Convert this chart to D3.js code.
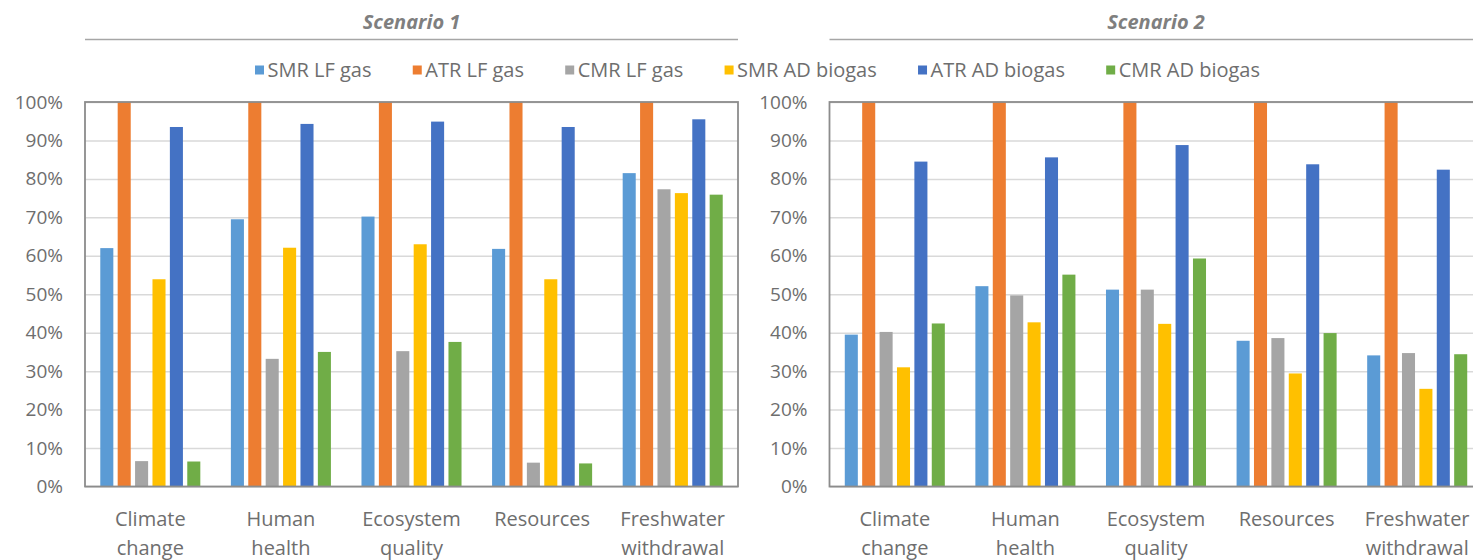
<!DOCTYPE html>
<html>
<head>
<meta charset="utf-8">
<script src="https://cdn.jsdelivr.net/npm/d3@7/dist/d3.min.js"></script>
<style>
  html, body { margin: 0; padding: 0; background: #ffffff; }
  svg { display: block; font-family: "Open Sans", sans-serif; }
</style>
</head>
<body>
<svg id="chart" width="1473" height="560"></svg>
<script>
// ---------------- DATA ----------------
const categories = ["Climate change", "Human health", "Ecosystem quality", "Resources", "Freshwater withdrawal"];
const categoryLines = [["Climate", "change"], ["Human", "health"], ["Ecosystem", "quality"], ["Resources"], ["Freshwater", "withdrawal"]];
const seriesNames = ["SMR LF gas", "ATR LF gas", "CMR LF gas", "SMR AD biogas", "ATR AD biogas", "CMR AD biogas"];
const seriesColors = ["#5B9BD5", "#ED7D31", "#A5A5A5", "#FFC000", "#4472C4", "#70AD47"];
const scenarioTitles = ["Scenario 1", "Scenario 2"];
const yTickValues = [0, 0.1, 0.2, 0.3, 0.4, 0.5, 0.6, 0.7, 0.8, 0.9, 1.0];

// Scenario 1 (share of maximum), one array per series, in category order
const s1SmrLfGas    = [0.620, 0.695, 0.702, 0.618, 0.815];
const s1AtrLfGas    = [1.000, 1.000, 1.000, 1.000, 1.000];
const s1CmrLfGas    = [0.066, 0.332, 0.352, 0.062, 0.773];
const s1SmrAdBiogas = [0.539, 0.621, 0.630, 0.539, 0.763];
const s1AtrAdBiogas = [0.935, 0.943, 0.949, 0.935, 0.955];
const s1CmrAdBiogas = [0.065, 0.350, 0.376, 0.060, 0.759];

// Scenario 2
const s2SmrLfGas    = [0.395, 0.521, 0.512, 0.379, 0.341];
const s2AtrLfGas    = [1.000, 1.000, 1.000, 1.000, 1.000];
const s2CmrLfGas    = [0.402, 0.497, 0.512, 0.386, 0.347];
const s2SmrAdBiogas = [0.310, 0.427, 0.423, 0.294, 0.254];
const s2AtrAdBiogas = [0.845, 0.856, 0.888, 0.838, 0.824];
const s2CmrAdBiogas = [0.424, 0.551, 0.593, 0.399, 0.344];

const scenarioSeries = [
  [s1SmrLfGas, s1AtrLfGas, s1CmrLfGas, s1SmrAdBiogas, s1AtrAdBiogas, s1CmrAdBiogas],
  [s2SmrLfGas, s2AtrLfGas, s2CmrLfGas, s2SmrAdBiogas, s2AtrAdBiogas, s2CmrAdBiogas]
];

// ---------------- LAYOUT ----------------
const svg = d3.select("#chart");
const plotTop = 102, plotBottom = 486.5;
const panelX = [[85, 738], [829.5, 1482.5]];
const textColor = "#6e6e6e";

const y = d3.scaleLinear().domain([0, 1]).range([plotBottom, plotTop]);

scenarioTitles.forEach((title, p) => {
  const [x0, x1] = panelX[p];
  const g = svg.append("g");

  const x = d3.scaleBand().domain(categories).range([x0, x1]).paddingInner(0).paddingOuter(0);
  const xs = d3.scaleBand().domain(seriesNames)
    .range([x.bandwidth() * 0.117, x.bandwidth() * 0.883]).paddingInner(0.25).paddingOuter(0);

  // gridlines
  g.append("g")
    .attr("transform", `translate(${x0},0)`)
    .call(d3.axisLeft(y).tickValues(yTickValues).tickSize(-(x1 - x0)).tickFormat(""))
    .call(a => a.select(".domain").remove())
    .call(a => a.selectAll("line").attr("stroke", "#d9d9d9").attr("stroke-width", 1.5));

  // y-axis labels
  g.append("g")
    .attr("transform", `translate(${x0},0)`)
    .call(d3.axisLeft(y).tickValues(yTickValues).tickSize(0).tickPadding(22).tickFormat(d3.format(".0%")))
    .call(a => a.select(".domain").remove())
    .call(a => a.selectAll("text")
      .attr("font-family", "'Open Sans', sans-serif")
      .attr("font-size", 19)
      .attr("fill", textColor));

  // bars
  seriesNames.forEach((name, si) => {
    g.append("g").selectAll("rect")
      .data(scenarioSeries[p][si])
      .join("rect")
      .attr("x", (d, i) => x(categories[i]) + xs(name))
      .attr("width", xs.bandwidth())
      .attr("y", d => y(d))
      .attr("height", d => y(0) - y(d))
      .attr("fill", seriesColors[si]);
  });

  // plot border
  g.append("rect")
    .attr("x", x0).attr("y", plotTop)
    .attr("width", x1 - x0).attr("height", plotBottom - plotTop)
    .attr("fill", "none").attr("stroke", "#8c8c8c").attr("stroke-width", 1.8);

  // category labels
  const xa = g.append("g")
    .attr("transform", `translate(0,${plotBottom})`)
    .call(d3.axisBottom(x).tickSize(0).tickFormat(""))
    .call(a => a.select(".domain").remove());
  xa.selectAll(".tick").each(function(d, i) {
    const t = d3.select(this).append("text")
      .attr("text-anchor", "middle")
      .attr("font-family", "'Open Sans', sans-serif")
      .attr("font-size", 20)
      .attr("fill", textColor);
    categoryLines[i].forEach((line, li) => {
      t.append("tspan").attr("x", 0).attr("y", 39 + li * 29).text(line);
    });
  });

  // scenario title and rule
  svg.append("text")
    .attr("x", (x0 + x1) / 2)
    .attr("y", 29)
    .attr("text-anchor", "middle")
    .attr("font-family", "'Open Sans', sans-serif")
    .attr("font-size", 20)
    .attr("font-weight", "bold")
    .attr("font-style", "italic")
    .attr("fill", "#7f7f7f")
    .text(title);
  svg.append("line")
    .attr("x1", x0).attr("x2", Math.min(x1, 1473))
    .attr("y1", 39.5).attr("y2", 39.5)
    .attr("stroke", "#a6a6a6").attr("stroke-width", 1.5);
});

// legend (spread over the same span as the reference: 255 .. 1260)
const legendLeft = 255, legendRight = 1260;
const legend = svg.append("g").attr("transform", `translate(0,70)`);
const legendItems = seriesNames.map((name, i) => {
  const it = legend.append("g");
  it.append("rect").attr("x", 0).attr("y", -4.5).attr("width", 9).attr("height", 9).attr("fill", seriesColors[i]);
  const t = it.append("text").attr("x", 12.5).attr("y", 0).attr("dy", "0.35em")
    .attr("font-family", "'Open Sans', sans-serif").attr("font-size", 20).attr("fill", textColor).text(name);
  return { it, w: 12.5 + t.node().getComputedTextLength() };
});
const totalW = d3.sum(legendItems, d => d.w);
const gap = (legendRight - legendLeft - totalW) / (legendItems.length - 1);
let lx = legendLeft;
legendItems.forEach(d => {
  d.it.attr("transform", `translate(${lx},0)`);
  lx += d.w + gap;
});
</script>
</body>
</html>
